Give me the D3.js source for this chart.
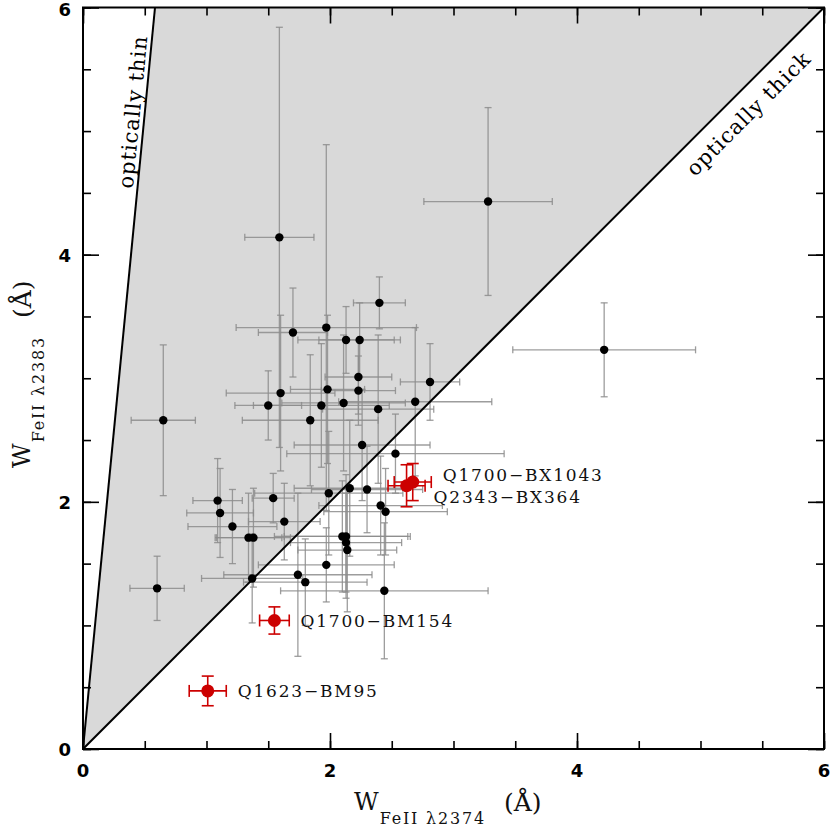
<!DOCTYPE html>
<html>
<head>
<meta charset="utf-8">
<script src="https://cdn.jsdelivr.net/npm/d3@7"></script>
<style>
  body { margin: 0; background: #fff; }
  svg { display: block; }
</style>
</head>
<body>
<svg id="chart" width="831" height="834"></svg>
<script>
// black points: W(2374), W(2383) and their errors (Angstrom)
const blackX    = [3.28, 4.22, 1.59, 0.65, 1.70, 1.97, 2.40, 2.13, 2.24, 2.23, 1.98, 2.23, 1.60, 1.50, 1.93, 2.11, 2.39, 1.84, 2.26, 2.81, 2.69, 2.53, 0.60, 1.09, 1.11, 1.21, 1.34, 1.38, 1.54, 1.63, 1.37, 1.99, 2.16, 2.10, 2.13, 2.13, 2.14, 1.97, 1.74, 1.80, 2.44, 2.30, 2.41, 2.45];
const blackY    = [4.43, 3.23, 4.14, 2.66, 3.37, 3.41, 3.61, 3.31, 3.31, 3.01, 2.91, 2.90, 2.88, 2.78, 2.78, 2.80, 2.75, 2.66, 2.46, 2.97, 2.81, 2.39, 1.30, 2.01, 1.91, 1.80, 1.71, 1.71, 2.03, 1.84, 1.38, 2.07, 2.11, 1.72, 1.72, 1.67, 1.61, 1.49, 1.41, 1.35, 1.28, 2.10, 1.97, 1.92];
const blackXErr = [0.52, 0.74, 0.28, 0.26, 0.28, 0.73, 0.21, 0.39, 0.33, 0.27, 0.30, 0.30, 0.44, 0.27, 0.55, 0.50, 0.45, 0.55, 0.55, 0.24, 0.62, 0.88, 0.22, 0.20, 0.27, 0.36, 0.27, 0.30, 0.17, 0.29, 0.41, 0.60, 0.45, 0.55, 0.50, 0.45, 0.40, 0.55, 0.60, 0.50, 0.84, 0.45, 0.50, 0.50];
const blackYErr = [0.76, 0.38, 1.70, 0.61, 0.36, 1.48, 0.21, 0.27, 0.30, 0.30, 0.60, 0.28, 0.63, 0.28, 0.50, 0.55, 0.60, 0.53, 0.45, 0.31, 0.60, 0.32, 0.26, 0.34, 0.36, 0.30, 0.36, 0.40, 0.20, 0.31, 0.36, 0.50, 0.55, 0.45, 0.50, 0.40, 0.50, 0.30, 0.66, 0.35, 0.55, 0.35, 0.40, 0.35];

// highlighted (red) objects
const redNames = ["Q1700\u2212BX1043", "Q2343\u2212BX364", "Q1700\u2212BM154", "Q1623\u2212BM95"];
const redX     = [2.67, 2.62, 1.55, 1.01];
const redY     = [2.16, 2.13, 1.04, 0.47];
const redXErr  = [0.15, 0.15, 0.12, 0.15];
const redYErr  = [0.15, 0.17, 0.11, 0.12];

const majorTicks = [0, 2, 4, 6];
const minorTicks = d3.range(0, 6.01, 0.5);
const thinRatio = 10.29;   // optically thin limit W2383/W2374

const svg = d3.select("#chart");
const pLeft = 83, pRight = 824, pTop = 7.5, pBottom = 749;

const x = d3.scaleLinear().domain([0, 6]).range([pLeft, pRight]);
const y = d3.scaleLinear().domain([0, 6]).range([pBottom, pTop]);

// shaded region between the two limits
svg.append("polygon")
  .attr("points", [[x(0), y(0)], [x(6 / thinRatio), y(6)], [x(6), y(6)]].map(p => p.join(",")).join(" "))
  .attr("fill", "#d9d9d9");

// error bars for black points
const cap = 3.5;
const eb = svg.append("g").attr("stroke", "#8c8c8c").attr("stroke-width", 1.3).attr("stroke-opacity", 0.85);
blackX.forEach((v, i) => {
  const cx = x(v), cy = y(blackY[i]);
  const x0 = x(v - blackXErr[i]), x1 = x(v + blackXErr[i]);
  const y0 = y(blackY[i] - blackYErr[i]), y1 = y(blackY[i] + blackYErr[i]);
  eb.append("line").attr("x1", x0).attr("x2", x1).attr("y1", cy).attr("y2", cy);
  eb.append("line").attr("x1", cx).attr("x2", cx).attr("y1", y0).attr("y2", y1);
  eb.append("line").attr("x1", x0).attr("x2", x0).attr("y1", cy - cap).attr("y2", cy + cap);
  eb.append("line").attr("x1", x1).attr("x2", x1).attr("y1", cy - cap).attr("y2", cy + cap);
  eb.append("line").attr("x1", cx - cap).attr("x2", cx + cap).attr("y1", y0).attr("y2", y0);
  eb.append("line").attr("x1", cx - cap).attr("x2", cx + cap).attr("y1", y1).attr("y2", y1);
});

// the two limit lines
svg.append("line")
  .attr("x1", x(0)).attr("y1", y(0)).attr("x2", x(6 / thinRatio)).attr("y2", y(6))
  .attr("stroke", "#000").attr("stroke-width", 2);
svg.append("line")
  .attr("x1", x(0)).attr("y1", y(0)).attr("x2", x(6)).attr("y2", y(6))
  .attr("stroke", "#000").attr("stroke-width", 2);

// black points
svg.append("g").selectAll("circle")
  .data(blackX)
  .join("circle")
  .attr("cx", d => x(d))
  .attr("cy", (d, i) => y(blackY[i]))
  .attr("r", 4.2)
  .attr("fill", "#000");

// red points with errors
const red = "#cc0000";
const rg = svg.append("g").attr("stroke", red).attr("stroke-width", 1.6);
const rcap = 6;
redX.forEach((v, i) => {
  const cx = x(v), cy = y(redY[i]);
  const x0 = x(v - redXErr[i]), x1 = x(v + redXErr[i]);
  const y0 = y(redY[i] - redYErr[i]), y1 = y(redY[i] + redYErr[i]);
  rg.append("line").attr("x1", x0).attr("x2", x1).attr("y1", cy).attr("y2", cy);
  rg.append("line").attr("x1", cx).attr("x2", cx).attr("y1", y0).attr("y2", y1);
  rg.append("line").attr("x1", x0).attr("x2", x0).attr("y1", cy - rcap).attr("y2", cy + rcap);
  rg.append("line").attr("x1", x1).attr("x2", x1).attr("y1", cy - rcap).attr("y2", cy + rcap);
  rg.append("line").attr("x1", cx - rcap).attr("x2", cx + rcap).attr("y1", y0).attr("y2", y0);
  rg.append("line").attr("x1", cx - rcap).attr("x2", cx + rcap).attr("y1", y1).attr("y2", y1);
});
svg.append("g").selectAll("circle")
  .data(redX)
  .join("circle")
  .attr("cx", d => x(d))
  .attr("cy", (d, i) => y(redY[i]))
  .attr("r", 6.5)
  .attr("fill", red);

// labels of red objects (offsets in px from the point)
const labelOff = [[30, -1], [27, 17], [26, 7], [30, 6]];
svg.append("g").selectAll("text")
  .data(redNames)
  .join("text")
  .attr("x", (d, i) => x(redX[i]) + labelOff[i][0])
  .attr("y", (d, i) => y(redY[i]) + labelOff[i][1])
  .attr("font-family", "DejaVu Serif")
  .attr("font-size", 17)
  .attr("letter-spacing", 1.8)
  .attr("fill", "#111")
  .text(d => d);

// region labels
const thinAngle = -Math.atan2(y(0) - y(6), x(6 / thinRatio) - x(0)) * 180 / Math.PI;
svg.append("text")
  .attr("transform", `translate(${x(0.462)},${y(5.15)}) rotate(${thinAngle})`)
  .attr("text-anchor", "middle")
  .attr("font-family", "DejaVu Serif")
  .attr("font-size", 21)
  .attr("letter-spacing", 1)
  .text("optically thin");
svg.append("text")
  .attr("transform", `translate(${x(5.43)},${y(5.10)}) rotate(-45)`)
  .attr("text-anchor", "middle")
  .attr("font-family", "DejaVu Serif")
  .attr("font-size", 21)
  .attr("letter-spacing", 1)
  .text("optically thick");

// axes: inward ticks on all four sides
function ticks(axis, pos, values, size) {
  const g = svg.append("g").attr("transform", pos)
    .call(axis.tickValues(values).tickSize(size).tickFormat(""));
  g.select(".domain").remove();
  g.selectAll("line").attr("stroke", "#000").attr("stroke-width", 1.6);
  return g;
}
ticks(d3.axisBottom(x), `translate(0,${pBottom})`, minorTicks, -8);
ticks(d3.axisBottom(x), `translate(0,${pBottom})`, majorTicks, -16);
ticks(d3.axisTop(x), `translate(0,${pTop})`, minorTicks, -8);
ticks(d3.axisTop(x), `translate(0,${pTop})`, majorTicks, -16);
ticks(d3.axisLeft(y), `translate(${pLeft},0)`, minorTicks, -8);
ticks(d3.axisLeft(y), `translate(${pLeft},0)`, majorTicks, -16);
ticks(d3.axisRight(y), `translate(${pRight},0)`, minorTicks, -8);
ticks(d3.axisRight(y), `translate(${pRight},0)`, majorTicks, -16);

svg.append("rect")
  .attr("x", pLeft).attr("y", pTop).attr("width", pRight - pLeft).attr("height", pBottom - pTop)
  .attr("fill", "none").attr("stroke", "#000").attr("stroke-width", 2);

// tick labels
svg.append("g").selectAll("text")
  .data(majorTicks)
  .join("text")
  .attr("x", d => x(d)).attr("y", pBottom + 28)
  .attr("text-anchor", "middle")
  .attr("font-family", "DejaVu Sans").attr("font-weight", "bold").attr("font-size", 18)
  .text(d => d);
svg.append("g").selectAll("text")
  .data(majorTicks)
  .join("text")
  .attr("x", pLeft - 12).attr("y", d => Math.max(y(d) + 7, 16))
  .attr("text-anchor", "end")
  .attr("font-family", "DejaVu Sans").attr("font-weight", "bold").attr("font-size", 18)
  .text(d => d);

// axis titles
function title(sel, sub) {
  sel.attr("font-family", "DejaVu Serif").attr("font-size", 24).attr("fill", "#111");
  sel.append("tspan").text("W");
  sel.append("tspan").attr("font-size", 16).attr("letter-spacing", 1.8).attr("dy", 14).attr("dx", 1).text(sub);
  sel.append("tspan").attr("font-size", 25).attr("dy", -13).attr("dx", 18).text("(\u00c5)");
}
title(svg.append("text").attr("x", 354).attr("y", 810), "FeII \u03bb2374");
title(svg.append("text").attr("transform", `translate(30,468) rotate(-90)`), "FeII \u03bb2383");
</script>
</body>
</html>
